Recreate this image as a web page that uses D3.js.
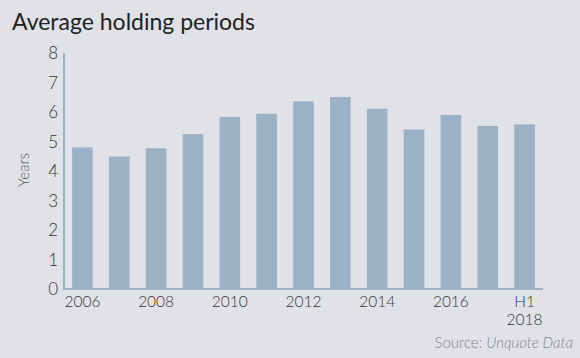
<!DOCTYPE html>
<html><head><meta charset="utf-8">
<script src="https://cdn.jsdelivr.net/npm/d3@7"></script>
<style>
html,body{margin:0;padding:0;background:#e1e2e7;}
svg{display:block;font-family:Lato,"Open Sans",sans-serif;}
</style></head>
<body>
<svg id="c" width="580" height="358"></svg>
<script>
const categories = ["2006","2007","2008","2009","2010","2011","2012","2013","2014","2015","2016","2017","H1 2018"];
const values = [4.80, 4.49, 4.77, 5.25, 5.83, 5.94, 6.36, 6.51, 6.11, 5.41, 5.90, 5.53, 5.58];
const yTicks = [0,1,2,3,4,5,6,7,8];
const xLabels = ["2006","2008","2010","2012","2014","2016","H1 2018"];

const svg = d3.select("#c");
const barColor = "#9bb1c6";
const textColor = "#333";

const x = d3.scaleBand().domain(categories).range([64, 543]).paddingInner(0.44).paddingOuter(0.22);
const y = d3.scaleLinear().domain([0, 8]).range([289, 53]);

svg.append("text").attr("x", 12).attr("y", 30).attr("font-size", 23).attr("fill", "#222")
  .text("Average holding periods");

svg.selectAll("rect.bar").data(categories).join("rect").attr("class","bar")
  .attr("x", d => x(d)).attr("width", x.bandwidth())
  .attr("y", (d,i) => y(values[i])).attr("height", (d,i) => y(0) - y(values[i]))
  .attr("fill", barColor);

// axes lines
svg.append("line").attr("x1", 64).attr("x2", 64).attr("y1", y(8)).attr("y2", y(0)+1)
  .attr("stroke", barColor).attr("stroke-width", 2);
svg.append("line").attr("x1", 63).attr("x2", 543).attr("y1", y(0)).attr("y2", y(0))
  .attr("stroke", barColor).attr("stroke-width", 2);

// y tick labels
const yAxis = d3.axisLeft(y).tickValues(yTicks).tickSize(0).tickPadding(0).tickFormat(d3.format("d"));
const gy = svg.append("g").attr("transform", "translate(58,0)").call(yAxis);
gy.select(".domain").remove();
gy.selectAll("text").attr("font-size", 17).attr("font-weight", 300).attr("fill", textColor)
  .attr("font-family","Lato,sans-serif").attr("dy","0.35em");

// x labels (multi-line labels drawn as separate lines)
const gx = svg.append("g");
xLabels.forEach(lab => {
  const cx = x(lab) + x.bandwidth()/2;
  lab.split(" ").forEach((p, k) => {
    gx.append("text").attr("x", cx).attr("y", 306.5 + k * 18.5).attr("text-anchor","middle")
      .attr("font-size", 15.5).attr("font-weight", 300).attr("fill", textColor).text(p);
  });
});

// y title
svg.append("text").attr("transform", "translate(29,170) rotate(-90)").attr("text-anchor","middle")
  .attr("font-size", 15).attr("font-weight", 300).attr("fill", "#555").text("Years");

// source
const s = svg.append("text").attr("x", 573).attr("y", 348).attr("text-anchor","end")
  .attr("font-size", 15).attr("font-weight", 300).attr("fill", "#84848a");
s.append("tspan").text("Source: ");
s.append("tspan").attr("font-style","italic").text("Unquote Data");
</script>
</body></html>
